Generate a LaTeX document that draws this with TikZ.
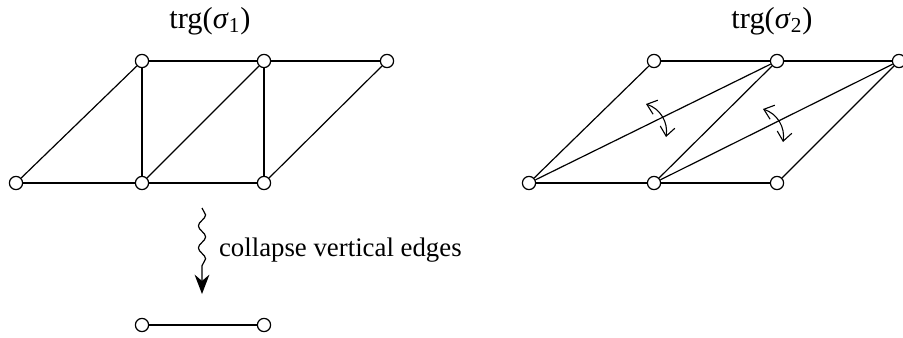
\documentclass[tikz,border=0pt]{standalone}
\usepackage{fontspec}
\setmainfont{Liberation Serif}
\usepackage{tikz}
\usetikzlibrary{arrows.meta,decorations.pathmorphing}

\begin{document}
\begin{tikzpicture}[
  x=0.5pt,y=-0.5pt,
  vtx/.style={circle,draw=black,fill=white,line width=0.6pt,minimum size=6.6pt,inner sep=0pt},
  edge/.style={line width=0.6pt,color=black},
  flip/.style={{Straight Barb[length=1.6mm,width=2.6mm]}-{Straight Barb[length=1.6mm,width=2.6mm]},line width=0.55pt,bend left=40},
  title/.style={font=\fontsize{15.2}{18}\selectfont},
  lbl/.style={font=\fontsize{13.4}{16}\selectfont,anchor=west}
]
\useasboundingbox (0,0) rectangle (903,337);
% titles
\node[title] (t1) at (210,21) {trg(\textit{σ}\textsubscript{1})};
\node[title] (t2) at (772,21) {trg(\textit{σ}\textsubscript{2})};
% left triangulation
\node[vtx] (lb1) at (16,183) {};
\node[vtx] (lb2) at (142,183) {};
\node[vtx] (lb3) at (264,183) {};
\node[vtx] (lt1) at (142,61) {};
\node[vtx] (lt2) at (264,61) {};
\node[vtx] (lt3) at (387,61) {};
\draw[edge] (lb1) -- (lb2);
\draw[edge] (lb2) -- (lb3);
\draw[edge] (lt1) -- (lt2);
\draw[edge] (lt2) -- (lt3);
\draw[edge] (lb1) -- (lt1);
\draw[edge] (lb2) -- (lt1);
\draw[edge] (lb2) -- (lt2);
\draw[edge] (lb3) -- (lt2);
\draw[edge] (lb3) -- (lt3);
% right triangulation
\node[vtx] (rb1) at (529,183) {};
\node[vtx] (rb2) at (654,183) {};
\node[vtx] (rb3) at (777,183) {};
\node[vtx] (rt1) at (654,61) {};
\node[vtx] (rt2) at (777,61) {};
\node[vtx] (rt3) at (899,61) {};
\draw[edge] (rb1) -- (rb2);
\draw[edge] (rb2) -- (rb3);
\draw[edge] (rt1) -- (rt2);
\draw[edge] (rt2) -- (rt3);
\draw[edge] (rb1) -- (rt1);
\draw[edge] (rb1) -- (rt2);
\draw[edge] (rb2) -- (rt2);
\draw[edge] (rb2) -- (rt3);
\draw[edge] (rb3) -- (rt3);
% flips
\coordinate (f1a) at (646,104);
\coordinate (f1b) at (666,137);
\coordinate (f2a) at (763,109);
\coordinate (f2b) at (783,142);
\draw[flip] (f1a) to (f1b);
\draw[flip] (f2a) to (f2b);
% collapse
\coordinate (sq1) at (202,208);
\coordinate (sq2) at (202,294);
\draw[-{Stealth[length=3.4mm,width=2.6mm]},line width=0.6pt,
  decorate,decoration={snake,amplitude=1.8pt,segment length=11pt,post length=3.6mm}] (sq1) -- (sq2);
\node[lbl] (col) at (212,250) {collapse vertical edges};
\node[vtx] (c1) at (142,325) {};
\node[vtx] (c2) at (264,325) {};
\draw[edge] (c1) -- (c2);
\end{tikzpicture}
\end{document}
